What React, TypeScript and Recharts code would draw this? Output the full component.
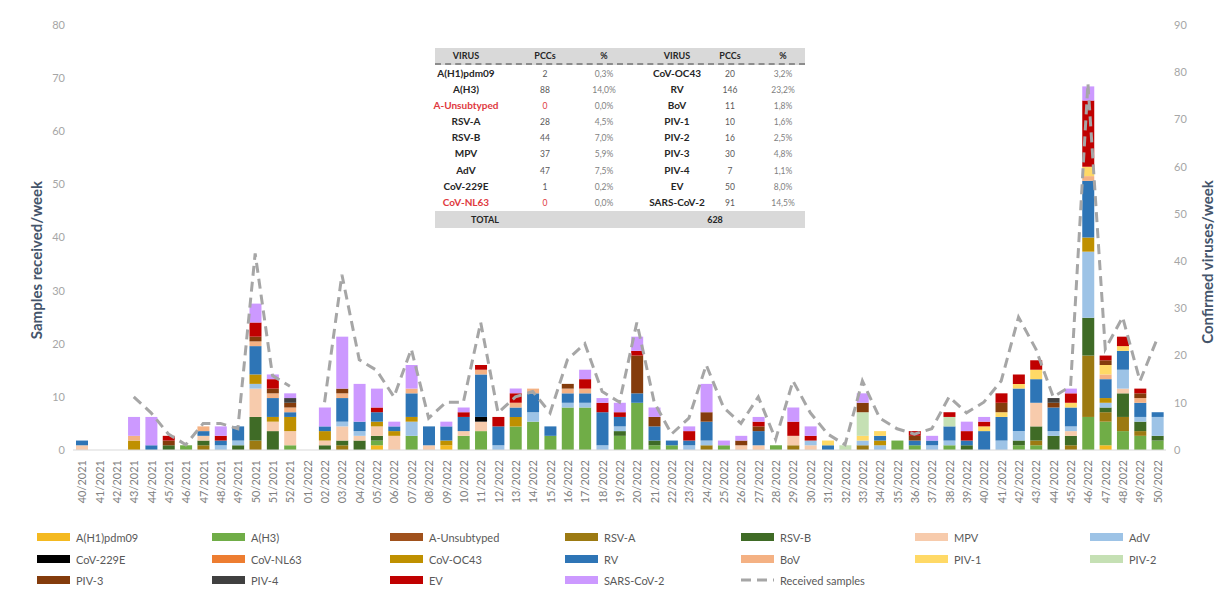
import { ComposedChart, Bar, Line, XAxis, YAxis } from 'recharts'

const weeks = [
  '40/2021', '41/2021', '42/2021', '43/2021', '44/2021', '45/2021', '46/2021', '47/2021', '48/2021', '49/2021',
  '50/2021', '51/2021', '52/2021', '01/2022', '02/2022', '03/2022', '04/2022', '05/2022', '06/2022', '07/2022',
  '08/2022', '09/2022', '10/2022', '11/2022', '12/2022', '13/2022', '14/2022', '15/2022', '16/2022', '17/2022',
  '18/2022', '19/2022', '20/2022', '21/2022', '22/2022', '23/2022', '24/2022', '25/2022', '26/2022', '27/2022',
  '28/2022', '29/2022', '30/2022', '31/2022', '32/2022', '33/2022', '34/2022', '35/2022', '36/2022', '37/2022',
  '38/2022', '39/2022', '40/2022', '41/2022', '42/2022', '43/2022', '44/2022', '45/2022', '46/2022', '47/2022',
  '48/2022', '49/2022', '50/2022',
]

// received samples per week (left axis)
const samples = [
  null, null, null, 10, 7, 3, 1, 5, 5, 4,
  37, 14, 12, null, 9, 33, 17, 15, 10, 19,
  6, 9, 9, 24, 7, 10, 11, 7, 17, 20,
  11, 9, 24, 9, 3, 6, 16, 8, 5, 10,
  2, 13, 7, 3, 1, 13, 6, 4, 3, 4,
  10, 7, 9, 13, 25, 19, 10, 12, 69, 19,
  25, 13, 21,
]

// confirmed viruses per week (right axis)
const h1 = [
  0, 0, 0, 0, 0, 0, 0, 0, 0, 0,
  0, 0, 0, 0, 0, 0, 0, 1, 0, 0,
  0, 1, 0, 0, 0, 0, 0, 0, 0, 0,
  0, 0, 0, 0, 0, 0, 0, 0, 0, 0,
  0, 0, 0, 0, 0, 0, 0, 0, 0, 0,
  0, 0, 0, 0, 0, 0, 0, 0, 0, 1,
  0, 0, 0,
]
const h3 = [
  0, 0, 0, 0, 0, 0, 1, 0, 0, 0,
  0, 0, 1, 0, 0, 0, 0, 1, 0, 3,
  0, 0, 3, 4, 0, 5, 6, 3, 9, 9,
  0, 3, 10, 1, 1, 0, 0, 1, 0, 0,
  1, 0, 0, 0, 0, 0, 0, 2, 1, 0,
  1, 0, 0, 0, 1, 1, 0, 0, 7, 5,
  4, 3, 2,
]
const aUnsub = [
  0, 0, 0, 0, 0, 0, 0, 0, 0, 0,
  0, 0, 0, 0, 0, 0, 0, 0, 0, 0,
  0, 0, 0, 0, 0, 0, 0, 0, 0, 0,
  0, 0, 0, 0, 0, 0, 0, 0, 0, 0,
  0, 0, 0, 0, 0, 0, 0, 0, 0, 0,
  0, 0, 0, 0, 0, 0, 0, 0, 0, 0,
  0, 0, 0,
]
const rsvA = [
  0, 0, 0, 0, 0, 0, 0, 1, 0, 0,
  2, 0, 0, 0, 0, 1, 0, 0, 0, 0,
  0, 0, 0, 0, 0, 0, 0, 0, 0, 0,
  0, 0, 0, 0, 0, 0, 1, 0, 0, 0,
  0, 1, 0, 0, 0, 1, 0, 0, 0, 0,
  0, 0, 0, 0, 0, 1, 0, 1, 13, 2,
  3, 1, 0,
]
const rsvB = [
  0, 0, 0, 0, 0, 1, 0, 1, 0, 1,
  5, 4, 0, 0, 1, 1, 2, 1, 0, 0,
  0, 0, 0, 0, 0, 0, 0, 0, 0, 0,
  0, 1, 0, 1, 0, 0, 0, 0, 0, 0,
  0, 0, 0, 0, 0, 0, 0, 0, 0, 0,
  0, 1, 0, 0, 1, 3, 3, 2, 8, 1,
  5, 2, 1,
]
const mpv = [
  1, 0, 0, 0, 0, 0, 0, 1, 0, 0,
  6, 2, 3, 0, 1, 3, 1, 2, 3, 0,
  1, 0, 1, 2, 0, 0, 0, 0, 0, 0,
  0, 0, 0, 0, 0, 0, 0, 0, 1, 1,
  0, 2, 1, 0, 0, 0, 0, 0, 0, 0,
  0, 0, 0, 0, 0, 5, 0, 1, 0, 0,
  1, 0, 0,
]
const adv = [
  0, 0, 0, 0, 0, 0, 0, 0, 1, 1,
  1, 0, 0, 0, 0, 1, 1, 0, 0, 3,
  0, 0, 0, 0, 1, 0, 2, 0, 1, 1,
  1, 1, 0, 0, 0, 1, 1, 0, 0, 0,
  0, 0, 1, 0, 0, 1, 1, 0, 0, 1,
  1, 0, 0, 2, 2, 0, 1, 1, 14, 1,
  4, 1, 4,
]
const cov229e = [
  0, 0, 0, 0, 0, 0, 0, 0, 0, 0,
  0, 0, 0, 0, 0, 0, 0, 0, 0, 0,
  0, 0, 0, 1, 0, 0, 0, 0, 0, 0,
  0, 0, 0, 0, 0, 0, 0, 0, 0, 0,
  0, 0, 0, 0, 0, 0, 0, 0, 0, 0,
  0, 0, 0, 0, 0, 0, 0, 0, 0, 0,
  0, 0, 0,
]
const covNl63 = [
  0, 0, 0, 0, 0, 0, 0, 0, 0, 0,
  0, 0, 0, 0, 0, 0, 0, 0, 0, 0,
  0, 0, 0, 0, 0, 0, 0, 0, 0, 0,
  0, 0, 0, 0, 0, 0, 0, 0, 0, 0,
  0, 0, 0, 0, 0, 0, 0, 0, 0, 0,
  0, 0, 0, 0, 0, 0, 0, 0, 0, 0,
  0, 0, 0,
]
const covOc43 = [
  0, 0, 0, 2, 0, 0, 0, 0, 0, 0,
  2, 1, 3, 0, 2, 0, 0, 1, 1, 1,
  0, 1, 0, 0, 0, 2, 0, 0, 0, 0,
  0, 0, 0, 0, 0, 0, 0, 0, 0, 0,
  0, 0, 0, 0, 0, 0, 1, 0, 0, 0,
  0, 0, 0, 0, 0, 0, 0, 0, 3, 1,
  0, 0, 0,
]
const rv = [
  1, 0, 0, 0, 1, 0, 0, 1, 1, 3,
  6, 4, 1, 0, 1, 5, 2, 2, 1, 5,
  4, 3, 3, 9, 4, 2, 4, 2, 2, 2,
  7, 2, 2, 3, 1, 1, 4, 0, 0, 3,
  0, 0, 0, 1, 0, 0, 1, 0, 1, 1,
  3, 1, 4, 5, 9, 5, 5, 4, 12, 4,
  4, 3, 1,
]
const bov = [
  0, 0, 0, 1, 0, 0, 0, 1, 0, 0,
  1, 1, 1, 0, 0, 1, 0, 0, 0, 1,
  0, 0, 0, 1, 0, 1, 1, 0, 1, 1,
  0, 0, 0, 0, 0, 0, 0, 0, 0, 0,
  0, 0, 0, 0, 0, 0, 0, 0, 0, 0,
  0, 0, 0, 0, 0, 0, 0, 0, 1, 1,
  0, 1, 0,
]
const piv1 = [
  0, 0, 0, 0, 0, 0, 0, 0, 0, 0,
  0, 0, 0, 0, 0, 0, 0, 0, 0, 0,
  0, 0, 0, 0, 0, 0, 0, 0, 0, 0,
  0, 0, 0, 0, 0, 0, 0, 0, 0, 0,
  0, 0, 0, 1, 0, 1, 1, 0, 0, 0,
  0, 0, 1, 1, 1, 2, 0, 1, 2, 2,
  1, 0, 0,
]
const piv2 = [
  0, 0, 0, 0, 0, 0, 0, 0, 0, 0,
  0, 0, 0, 0, 0, 0, 0, 0, 0, 0,
  0, 0, 0, 0, 0, 0, 0, 0, 0, 0,
  0, 0, 0, 0, 0, 0, 0, 0, 0, 0,
  0, 0, 0, 0, 1, 5, 0, 0, 0, 0,
  2, 0, 0, 0, 0, 0, 0, 0, 0, 0,
  0, 0, 0,
]
const piv3 = [
  0, 0, 0, 0, 0, 1, 0, 0, 0, 0,
  1, 1, 1, 0, 0, 1, 0, 0, 0, 0,
  0, 0, 0, 0, 0, 0, 0, 0, 1, 0,
  0, 0, 8, 2, 0, 0, 2, 0, 1, 1,
  0, 0, 0, 0, 0, 2, 0, 0, 1, 0,
  0, 0, 0, 2, 0, 0, 1, 0, 0, 1,
  0, 1, 0,
]
const piv4 = [
  0, 0, 0, 0, 0, 0, 0, 0, 0, 0,
  0, 0, 1, 0, 0, 0, 0, 0, 0, 0,
  0, 0, 0, 0, 0, 0, 0, 0, 0, 0,
  0, 0, 0, 0, 0, 0, 0, 0, 0, 0,
  0, 0, 0, 0, 0, 0, 0, 0, 0, 0,
  0, 0, 0, 0, 0, 0, 1, 0, 0, 0,
  0, 0, 0,
]
const ev = [
  0, 0, 0, 0, 0, 1, 0, 0, 1, 0,
  3, 2, 0, 0, 0, 0, 0, 1, 0, 0,
  0, 0, 1, 1, 2, 2, 0, 0, 0, 2,
  2, 1, 1, 0, 0, 2, 0, 0, 0, 1,
  0, 3, 1, 0, 0, 0, 0, 0, 1, 0,
  1, 2, 1, 2, 2, 2, 0, 2, 14, 1,
  2, 1, 0,
]
const sars = [
  0, 0, 0, 4, 6, 0, 0, 0, 2, 0,
  4, 1, 1, 0, 4, 11, 8, 4, 1, 5,
  0, 1, 1, 0, 0, 1, 0, 0, 0, 2,
  1, 2, 3, 2, 0, 1, 6, 1, 1, 1,
  0, 3, 2, 0, 0, 2, 0, 0, 0, 1,
  0, 2, 1, 0, 0, 0, 0, 1, 3, 0,
  0, 0, 0,
]

const leftTicks = [0, 10, 20, 30, 40, 50, 60, 70, 80]
const rightTicks = [0, 10, 20, 30, 40, 50, 60, 70, 80, 90]

// summary table
const tableLeftVirus = ['A(H1)pdm09', 'A(H3)', 'A-Unsubtyped', 'RSV-A', 'RSV-B', 'MPV', 'AdV', 'CoV-229E', 'CoV-NL63']
const tableLeftPcc = [2, 88, 0, 28, 44, 37, 47, 1, 0]
const tableLeftPct = ['0,3%', '14,0%', '0,0%', '4,5%', '7,0%', '5,9%', '7,5%', '0,2%', '0,0%']
const tableRightVirus = ['CoV-OC43', 'RV', 'BoV', 'PIV-1', 'PIV-2', 'PIV-3', 'PIV-4', 'EV', 'SARS-CoV-2']
const tableRightPcc = [20, 146, 11, 10, 16, 30, 7, 50, 91]
const tableRightPct = ['3,2%', '23,2%', '1,8%', '1,6%', '2,5%', '4,8%', '1,1%', '8,0%', '14,5%']
const tableTotal = 628
const redNames = ['A-Unsubtyped', 'CoV-NL63']

const SERIES = [
  { key: 'h1', name: 'A(H1)pdm09', color: '#f4b920', values: h1 },
  { key: 'h3', name: 'A(H3)', color: '#70ad47', values: h3 },
  { key: 'aUnsub', name: 'A-Unsubtyped', color: '#a0511c', values: aUnsub },
  { key: 'rsvA', name: 'RSV-A', color: '#9c7a12', values: rsvA },
  { key: 'rsvB', name: 'RSV-B', color: '#3f6b26', values: rsvB },
  { key: 'mpv', name: 'MPV', color: '#f7cbac', values: mpv },
  { key: 'adv', name: 'AdV', color: '#9dc3e6', values: adv },
  { key: 'cov229e', name: 'CoV-229E', color: '#000000', values: cov229e },
  { key: 'covNl63', name: 'CoV-NL63', color: '#ed7d31', values: covNl63 },
  { key: 'covOc43', name: 'CoV-OC43', color: '#bf9000', values: covOc43 },
  { key: 'rv', name: 'RV', color: '#2e75b6', values: rv },
  { key: 'bov', name: 'BoV', color: '#f4b183', values: bov },
  { key: 'piv1', name: 'PIV-1', color: '#ffd966', values: piv1 },
  { key: 'piv2', name: 'PIV-2', color: '#c5e0b4', values: piv2 },
  { key: 'piv3', name: 'PIV-3', color: '#843c0c', values: piv3 },
  { key: 'piv4', name: 'PIV-4', color: '#404040', values: piv4 },
  { key: 'ev', name: 'EV', color: '#c00000', values: ev },
  { key: 'sars', name: 'SARS-CoV-2', color: '#cc99ff', values: sars },
]

const data = weeks.map((w, i) => {
  const row: Record<string, string | number | null> = { week: w, samples: samples[i] }
  SERIES.forEach((s) => {
    row[s.key] = s.values[i]
  })
  return row
})

const FONT = "Lato, 'Open Sans', sans-serif"

function WeekTick(props: any) {
  const { x, y, payload } = props
  return (
    <text
      x={x}
      y={y}
      transform={`rotate(-90, ${x}, ${y})`}
      textAnchor="end"
      dominantBaseline="central"
      fontSize={11}
      fill="#808080"
      fontFamily={FONT}
    >
      {payload.value}
    </text>
  )
}

function SummaryTable() {
  const cols = [31, 110, 169, 242, 295, 348]
  const cell = (left: number, content: any, style: any = {}) => (
    <span style={{ position: 'absolute', left, top: 0, transform: 'translateX(-50%)', whiteSpace: 'nowrap', ...style }}>
      {content}
    </span>
  )
  const nameStyle = (n: string) => ({ fontWeight: 700, fontSize: 10, color: redNames.includes(n) ? '#e0393e' : '#262626' })
  const numStyle = (n: string) => ({ fontSize: 8.5, color: redNames.includes(n) ? '#e0393e' : '#595959', paddingTop: 1 })
  return (
    <div style={{ position: 'absolute', left: 435, top: 48, width: 370, fontFamily: FONT }}>
      <div style={{ position: 'relative', height: 15, background: '#d9d9d9', borderBottom: '2px dashed #8c8c8c', lineHeight: '15px' }}>
        {['VIRUS', 'PCCs', '%', 'VIRUS', 'PCCs', '%'].map((h, i) =>
          cell(cols[i], h, { fontWeight: 700, fontSize: 9, color: '#262626' }),
        )}
      </div>
      {tableLeftVirus.map((n, i) => (
        <div key={n} style={{ position: 'relative', height: 16.1, lineHeight: '16px' }}>
          {cell(cols[0], n, nameStyle(n))}
          {cell(cols[1], tableLeftPcc[i], numStyle(n))}
          {cell(cols[2], tableLeftPct[i], { fontSize: 8.5, color: '#7f7f7f', paddingTop: 1 })}
          {cell(cols[3], tableRightVirus[i], nameStyle(tableRightVirus[i]))}
          {cell(cols[4], tableRightPcc[i], numStyle(tableRightVirus[i]))}
          {cell(cols[5], tableRightPct[i], { fontSize: 8.5, color: '#7f7f7f', paddingTop: 1 })}
        </div>
      ))}
      <div style={{ position: 'relative', height: 17, background: '#d9d9d9', lineHeight: '17px', marginTop: 1 }}>
        {cell(50, 'TOTAL', { fontWeight: 700, fontSize: 9, color: '#262626' })}
        {cell(280, tableTotal, { fontWeight: 700, fontSize: 9, color: '#262626' })}
      </div>
    </div>
  )
}

function ChartLegend() {
  const items = [...SERIES.map((s) => ({ name: s.name, color: s.color, dashed: false })), { name: 'Received samples', color: '#a6a6a6', dashed: true }]
  const colX = [37, 212, 390, 565, 741, 915, 1090]
  const rowY = [537, 559, 580]
  return (
    <div style={{ position: 'absolute', left: 0, top: 0, fontFamily: FONT }}>
      {items.map((it, i) => {
        const col = i % 7
        const row = Math.floor(i / 7)
        return (
          <div
            key={it.name}
            style={{ position: 'absolute', left: colX[col], top: rowY[row] - 8, height: 16, display: 'flex', alignItems: 'center', whiteSpace: 'nowrap' }}
          >
            {it.dashed ? (
              <svg width={33} height={8} style={{ marginRight: 6 }}>
                <line x1={0} y1={4} x2={33} y2={4} stroke={it.color} strokeWidth={3} strokeDasharray="10 6" />
              </svg>
            ) : (
              <span style={{ display: 'inline-block', width: 33, height: 8, background: it.color, marginRight: 6 }} />
            )}
            <span style={{ fontSize: 11, color: '#595959' }}>{it.name}</span>
          </div>
        )
      })}
    </div>
  )
}

export default function App() {
  return (
    <div style={{ position: 'absolute', left: 0, top: 0, width: 1227, height: 604, background: '#fff', fontFamily: FONT }}>
      <ComposedChart width={1227} height={520} data={data} margin={{ top: 25, right: 0, bottom: 0, left: 0 }} barCategoryGap={5}>
        <XAxis
          dataKey="week"
          xAxisId={0}
          interval={0}
          height={70}
          tickLine={false}
          axisLine={{ stroke: '#d9d9d9' }}
          tick={<WeekTick />}
          tickMargin={4}
        />
        <YAxis
          yAxisId="left"
          orientation="left"
          width={73}
          domain={[0, 80]}
          ticks={leftTicks}
          axisLine={false}
          tickLine={false}
          tick={{ fontSize: 11, fill: '#a6a6a6', fontFamily: FONT }}
        />
        <YAxis
          yAxisId="right"
          orientation="right"
          width={61}
          domain={[0, 90]}
          ticks={rightTicks}
          axisLine={false}
          tickLine={false}
          tick={{ fontSize: 11, fill: '#a6a6a6', fontFamily: FONT }}
        />
        {SERIES.map((s) => (
          <Bar
            key={s.key}
            dataKey={s.key}
            name={s.name}
            stackId="v"
            yAxisId="right"
            fill={s.color}
            barSize={12}
            isAnimationActive={false}
          />
        ))}
        <Line
          dataKey="samples"
          yAxisId="left"
          type="linear"
          stroke="#a6a6a6"
          strokeWidth={3}
          strokeDasharray="10 6"
          dot={false}
          activeDot={false}
          connectNulls={false}
          isAnimationActive={false}
        />
      </ComposedChart>
      <div
        style={{
          position: 'absolute', left: 36, top: 260, transform: 'translate(-50%, -50%) rotate(-90deg)',
          fontSize: 15, fontWeight: 700, color: '#44546a', whiteSpace: 'nowrap',
        }}
      >
        Samples received/week
      </div>
      <div
        style={{
          position: 'absolute', left: 1207, top: 262, transform: 'translate(-50%, -50%) rotate(-90deg)',
          fontSize: 15, fontWeight: 700, color: '#44546a', whiteSpace: 'nowrap',
        }}
      >
        Confirmed viruses/week
      </div>
      <SummaryTable />
      <ChartLegend />
    </div>
  )
}
